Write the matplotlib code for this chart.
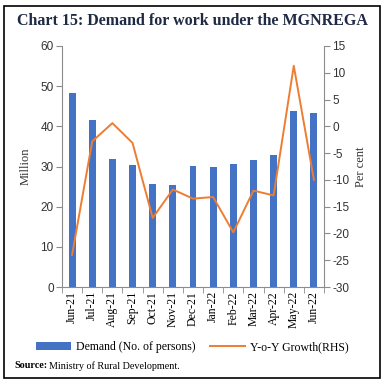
import numpy as np
import matplotlib.pyplot as plt
from matplotlib.patches import Rectangle

plt.rcParams["axes.unicode_minus"] = False

# data
months = ["Jun-21", "Jul-21", "Aug-21", "Sep-21", "Oct-21", "Nov-21", "Dec-21",
          "Jan-22", "Feb-22", "Mar-22", "Apr-22", "May-22", "Jun-22"]
demand = [48.2, 41.6, 31.8, 30.3, 25.7, 25.5, 30.1, 29.9, 30.7, 31.7, 32.9, 43.7, 43.4]
yoy_growth = [-24.0, -2.8, 0.6, -3.1, -17.1, -11.8, -13.5, -13.2, -19.8, -12.0, -12.9, 11.3, -10.0]

bar_color = "#4472C4"
line_color = "#ED7D31"
axis_gray = "#8c8c8c"
serif = "Liberation Serif"
sans = "Liberation Sans"

fig = plt.figure(figsize=(3.84, 3.84), dpi=100)
ax = fig.add_axes([62 / 384, 1 - 287 / 384, (324 - 62) / 384, (287 - 46) / 384])
ax2 = ax.twinx()

x = np.arange(len(months))
ax.bar(x, demand, width=0.34, color=bar_color, label="Demand (No. of persons)")
ax2.plot(x, yoy_growth, color=line_color, lw=1.4, label="Y-o-Y Growth(RHS)")

ax.set_xlim(-0.5, len(months) - 0.5)
ax.set_ylim(0, 60)
ax.set_yticks(range(0, 61, 10))
ax2.set_ylim(-30, 15)
ax2.set_yticks(range(-30, 16, 5))

ax.set_xticks(x)
ax.set_xticklabels(months, rotation=90, fontsize=8.5, family=serif)
ax.set_xticks(np.arange(-0.5, len(months), 1), minor=True)
ax.tick_params(axis="x", which="major", length=0, pad=3)
ax.tick_params(axis="x", which="minor", length=4, color=axis_gray, direction="out")

for a in (ax, ax2):
    for s in a.spines.values():
        s.set_visible(False)
    a.tick_params(axis="y", length=4, color=axis_gray, labelsize=8.5,
                  labelcolor="#333333", pad=2)
ax.spines["left"].set_visible(True)
ax.spines["left"].set_color(axis_gray)
ax.spines["bottom"].set_visible(True)
ax.spines["bottom"].set_color(axis_gray)
ax2.spines["right"].set_visible(True)
ax2.spines["right"].set_color(axis_gray)
for lab in ax.get_yticklabels() + ax2.get_yticklabels():
    lab.set_family(sans)

ax.set_ylabel("Million", fontsize=9, family=serif, color="#333333", labelpad=6)
ax2.set_ylabel("Per cent", fontsize=9, family=serif, color="#333333", labelpad=4)

fig.text(0.5, 1 - 21 / 384, "Chart 15: Demand for work under the MGNREGA",
         ha="center", va="center", fontsize=11.5, fontweight="bold",
         family=serif, color="#1f2a44")

h1, l1 = ax.get_legend_handles_labels()
h2, l2 = ax2.get_legend_handles_labels()
fig.legend(h1 + h2, l1 + l2, loc="center", bbox_to_anchor=(0.5, 1 - 347 / 384),
           ncol=2, frameon=False, prop={"family": serif, "size": 8.5},
           handlelength=3.0, columnspacing=1.2, handletextpad=0.4)

src = fig.text(14 / 384, 1 - 366 / 384, "Source:", fontsize=7.3, fontweight="bold",
               family=serif, va="center")
fig.canvas.draw()
bb = src.get_window_extent().transformed(fig.transFigure.inverted())
fig.text(bb.x1 + 2 / 384, 1 - 366 / 384, "Ministry of Rural Development.",
         fontsize=7.3, family=serif, va="center")

fig.patches.append(Rectangle((4 / 384, 6 / 384), 376 / 384, 372 / 384,
                             transform=fig.transFigure, fill=False,
                             edgecolor="black", lw=1.2))

fig.savefig("out.png", dpi=100)
